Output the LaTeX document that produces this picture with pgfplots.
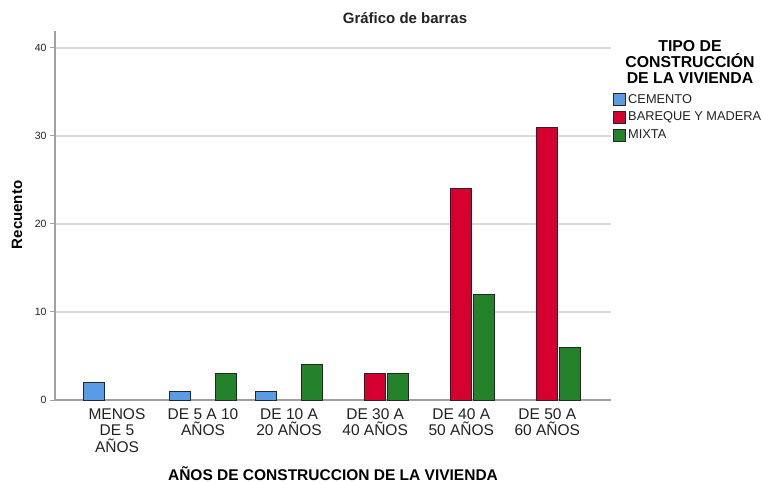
\documentclass[border=0pt]{standalone}
\usepackage{fontspec}
\setmainfont{Liberation Sans}
\usepackage{pgfplots}
\pgfplotsset{compat=1.18}
\definecolor{cem}{HTML}{5A9BE6}
\definecolor{baq}{HTML}{D6002F}
\definecolor{mix}{HTML}{24822A}
\definecolor{axgray}{HTML}{A0A0A0}
\definecolor{gridc}{HTML}{DADADA}
\definecolor{txt}{HTML}{222222}
\begin{document}
\begin{tikzpicture}
\path[use as bounding box] (0bp,0bp) rectangle (762bp,483bp);
\begin{axis}[
  at={(55bp,83bp)}, anchor=south west,
  scale only axis, width=556bp, height=369bp,
  xmin=-0.72, xmax=5.74, ymin=0, ymax=41.93,
  axis x line=bottom, axis y line=left,
  axis line style={draw=axgray,line width=1.5bp,-},
  ybar=2bp, bar width=21bp,
  xtick={0,...,5}, major x tick style={draw=none},
  xticklabels={MENOS\\DE 5\\AÑOS, DE 5 A 10\\AÑOS, DE 10 A\\20 AÑOS, DE 30 A\\40 AÑOS, DE 40 A\\50 AÑOS, DE 50 A\\60 AÑOS},
  xticklabel style={align=center,font=\fontsize{15.5bp}{16.5bp}\selectfont,text=txt,inner sep=1bp,yshift=-2bp},
  ytick={0,10,20,30,40},
  yticklabel style={font=\fontsize{10.5bp}{11bp}\selectfont,text=txt},
  /pgf/number format/assume math mode=true,
  tick align=outside, major tick length=5bp,
  major y tick style={draw=axgray,line width=1bp},
  ymajorgrids, grid style={draw=gridc,line width=1.2bp},
  legend style={at={(axis description cs:1.004,0.835)},anchor=north west,draw=none,fill=none,
    font=\fontsize{12.8bp}{13bp}\selectfont,text=txt,inner sep=0pt,row sep=3.5bp,
    /tikz/every even column/.append style={column sep=2bp}},
  legend cell align=left,
  legend image code/.code={\draw[#1] (0bp,-6bp) rectangle (12bp,6bp);},
  clip=false,
]
\addplot[draw=black!85,line width=0.8bp,fill=cem] coordinates {(0,2)(1,1)(2,1)};
\addlegendentry{CEMENTO}
\addplot[draw=black!85,line width=0.8bp,fill=baq] coordinates {(3,3)(4,24)(5,31)};
\addlegendentry{BAREQUE Y MADERA}
\addplot[draw=black!85,line width=0.8bp,fill=mix] coordinates {(1,3)(2,4)(3,3)(4,12)(5,6)};
\addlegendentry{MIXTA}
\end{axis}
\node[font=\bfseries\fontsize{15bp}{16bp}\selectfont,text=txt] at (405bp,465bp) {Gráfico de barras};
\node[font=\bfseries\fontsize{15bp}{16bp}\selectfont,text=black,rotate=90] at (17bp,268bp) {Recuento};
\node[font=\bfseries\fontsize{15.5bp}{16bp}\selectfont,text=black,anchor=base,inner sep=0pt] at (333bp,3bp) {AÑOS DE CONSTRUCCION DE LA VIVIENDA};
\node[font=\bfseries\fontsize{15.8bp}{16bp}\selectfont,text=black,align=center,anchor=north,inner sep=0pt] at (690bp,443bp) {TIPO DE\\CONSTRUCCIÓN\\DE LA VIVIENDA};
\end{tikzpicture}
\end{document}
